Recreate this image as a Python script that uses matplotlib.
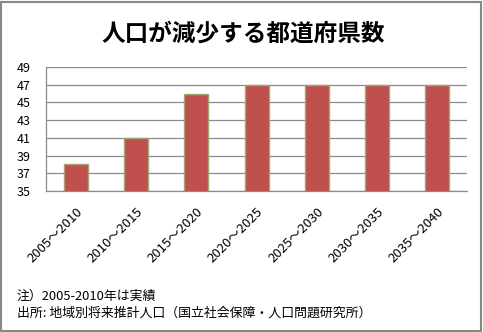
import matplotlib
matplotlib.use("Agg")
import matplotlib.pyplot as plt
from matplotlib.patches import Rectangle

plt.rcParams['font.family'] = ['Noto Sans CJK JP', 'DejaVu Sans']

periods = ["2005～2010", "2010～2015", "2015～2020", "2020～2025",
           "2025～2030", "2030～2035", "2035～2040"]
prefectures = [38, 41, 46, 47, 47, 47, 47]
y_ticks = [35, 37, 39, 41, 43, 45, 47, 49]

title = "人口が減少する都道府県数"
note = "注）2005-2010年は実績"
source = "出所: 地域別将来推計人口（国立社会保障・人口問題研究所）"

fig = plt.figure(figsize=(4.83, 3.32), dpi=100)
ax = fig.add_axes([0.0952, 0.4247, 0.872, 0.3735])

x = range(len(periods))
ax.bar(x, prefectures, width=0.4, color="#C0504D", edgecolor="#A8A274",
       linewidth=1.0, zorder=3)

ax.set_ylim(35, 49)
ax.set_xlim(-0.5, len(periods) - 0.5)
ax.set_yticks(y_ticks)
ax.set_yticklabels([str(v) for v in y_ticks], fontsize=9)
ax.set_xticks(list(x))
ax.set_xticklabels(periods, rotation=45, ha="right", rotation_mode="anchor",
                   fontsize=9.5)
ax.tick_params(axis="y", length=0, pad=11)
ax.tick_params(axis="x", length=0, pad=10)

ax.yaxis.grid(True, color="#8C8C8C", linewidth=0.9, zorder=0)
for side in ("top", "right"):
    ax.spines[side].set_visible(False)
for side in ("left", "bottom"):
    ax.spines[side].set_color("#8C8C8C")
    ax.spines[side].set_linewidth(0.9)

fig.text(0.503, 0.90, title, ha="center", va="center", fontsize=17,
         fontweight="bold")
fig.text(0.035, 0.108, note, ha="left", va="center", fontsize=9.3)
fig.text(0.035, 0.057, source, ha="left", va="center", fontsize=9.3)

fig.patches.append(Rectangle((0.002, 0.003), 0.994, 0.992,
                             transform=fig.transFigure, fill=False,
                             edgecolor="#888888", linewidth=1.5))

fig.savefig("out.png", dpi=100)
